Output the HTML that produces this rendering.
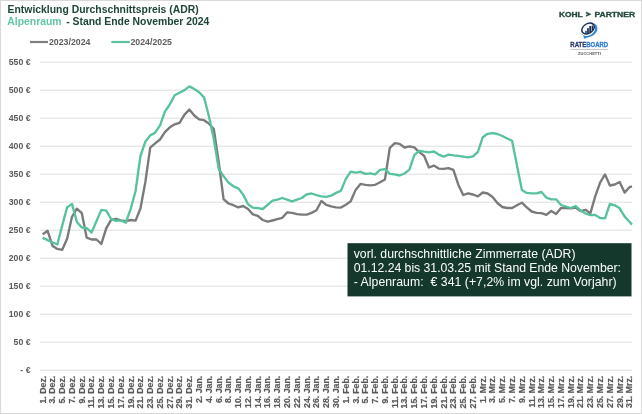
<!DOCTYPE html>
<html><head><meta charset="utf-8"><title>ADR</title>
<style>
html,body{margin:0;padding:0;background:#fff;}
body{width:642px;height:414px;overflow:hidden;font-family:"Liberation Sans",sans-serif;}
svg{display:block;will-change:transform;font-family:"Liberation Sans",sans-serif;}
</style></head><body>
<svg width="642" height="414" viewBox="0 0 642 414">
<rect x="0" y="0" width="642" height="414" fill="#ffffff"/>
<rect x="0.5" y="0.5" width="641" height="413" fill="none" stroke="#d9d9d9" stroke-width="1"/>
<line x1="40.3" y1="370.20" x2="632" y2="370.20" stroke="#dedede" stroke-width="1"/>
<line x1="40.3" y1="342.20" x2="632" y2="342.20" stroke="#dedede" stroke-width="1"/>
<line x1="40.3" y1="314.20" x2="632" y2="314.20" stroke="#dedede" stroke-width="1"/>
<line x1="40.3" y1="286.20" x2="632" y2="286.20" stroke="#dedede" stroke-width="1"/>
<line x1="40.3" y1="258.20" x2="632" y2="258.20" stroke="#dedede" stroke-width="1"/>
<line x1="40.3" y1="230.20" x2="632" y2="230.20" stroke="#dedede" stroke-width="1"/>
<line x1="40.3" y1="202.20" x2="632" y2="202.20" stroke="#dedede" stroke-width="1"/>
<line x1="40.3" y1="174.20" x2="632" y2="174.20" stroke="#dedede" stroke-width="1"/>
<line x1="40.3" y1="146.20" x2="632" y2="146.20" stroke="#dedede" stroke-width="1"/>
<line x1="40.3" y1="118.20" x2="632" y2="118.20" stroke="#dedede" stroke-width="1"/>
<line x1="40.3" y1="90.20" x2="632" y2="90.20" stroke="#dedede" stroke-width="1"/>
<line x1="40.3" y1="62.20" x2="632" y2="62.20" stroke="#dedede" stroke-width="1"/>
<text transform="translate(30.5,373.45) scale(1,1.1)" text-anchor="end" font-size="8.7" font-weight="bold" fill="#595959">- €</text>
<text transform="translate(30.5,345.45) scale(1,1.1)" text-anchor="end" font-size="8.7" font-weight="bold" fill="#595959">50 €</text>
<text transform="translate(30.5,317.45) scale(1,1.1)" text-anchor="end" font-size="8.7" font-weight="bold" fill="#595959">100 €</text>
<text transform="translate(30.5,289.45) scale(1,1.1)" text-anchor="end" font-size="8.7" font-weight="bold" fill="#595959">150 €</text>
<text transform="translate(30.5,261.45) scale(1,1.1)" text-anchor="end" font-size="8.7" font-weight="bold" fill="#595959">200 €</text>
<text transform="translate(30.5,233.45) scale(1,1.1)" text-anchor="end" font-size="8.7" font-weight="bold" fill="#595959">250 €</text>
<text transform="translate(30.5,205.45) scale(1,1.1)" text-anchor="end" font-size="8.7" font-weight="bold" fill="#595959">300 €</text>
<text transform="translate(30.5,177.45) scale(1,1.1)" text-anchor="end" font-size="8.7" font-weight="bold" fill="#595959">350 €</text>
<text transform="translate(30.5,149.45) scale(1,1.1)" text-anchor="end" font-size="8.7" font-weight="bold" fill="#595959">400 €</text>
<text transform="translate(30.5,121.45) scale(1,1.1)" text-anchor="end" font-size="8.7" font-weight="bold" fill="#595959">450 €</text>
<text transform="translate(30.5,93.45) scale(1,1.1)" text-anchor="end" font-size="8.7" font-weight="bold" fill="#595959">500 €</text>
<text transform="translate(30.5,65.45) scale(1,1.1)" text-anchor="end" font-size="8.7" font-weight="bold" fill="#595959">550 €</text>
<text transform="translate(45.55,375.7) rotate(-90)" text-anchor="end" font-size="8.8" font-weight="bold" fill="#595959" stroke="#595959" stroke-width="0.18">1. Dez.</text>
<text transform="translate(55.33,375.7) rotate(-90)" text-anchor="end" font-size="8.8" font-weight="bold" fill="#595959" stroke="#595959" stroke-width="0.18">3. Dez.</text>
<text transform="translate(65.11,375.7) rotate(-90)" text-anchor="end" font-size="8.8" font-weight="bold" fill="#595959" stroke="#595959" stroke-width="0.18">5. Dez.</text>
<text transform="translate(74.89,375.7) rotate(-90)" text-anchor="end" font-size="8.8" font-weight="bold" fill="#595959" stroke="#595959" stroke-width="0.18">7. Dez.</text>
<text transform="translate(84.67,375.7) rotate(-90)" text-anchor="end" font-size="8.8" font-weight="bold" fill="#595959" stroke="#595959" stroke-width="0.18">9. Dez.</text>
<text transform="translate(94.45,375.7) rotate(-90)" text-anchor="end" font-size="8.8" font-weight="bold" fill="#595959" stroke="#595959" stroke-width="0.18">11. Dez.</text>
<text transform="translate(104.23,375.7) rotate(-90)" text-anchor="end" font-size="8.8" font-weight="bold" fill="#595959" stroke="#595959" stroke-width="0.18">13. Dez.</text>
<text transform="translate(114.01,375.7) rotate(-90)" text-anchor="end" font-size="8.8" font-weight="bold" fill="#595959" stroke="#595959" stroke-width="0.18">15. Dez.</text>
<text transform="translate(123.79,375.7) rotate(-90)" text-anchor="end" font-size="8.8" font-weight="bold" fill="#595959" stroke="#595959" stroke-width="0.18">17. Dez.</text>
<text transform="translate(133.57,375.7) rotate(-90)" text-anchor="end" font-size="8.8" font-weight="bold" fill="#595959" stroke="#595959" stroke-width="0.18">19. Dez.</text>
<text transform="translate(143.35,375.7) rotate(-90)" text-anchor="end" font-size="8.8" font-weight="bold" fill="#595959" stroke="#595959" stroke-width="0.18">21. Dez.</text>
<text transform="translate(153.13,375.7) rotate(-90)" text-anchor="end" font-size="8.8" font-weight="bold" fill="#595959" stroke="#595959" stroke-width="0.18">23. Dez.</text>
<text transform="translate(162.91,375.7) rotate(-90)" text-anchor="end" font-size="8.8" font-weight="bold" fill="#595959" stroke="#595959" stroke-width="0.18">25. Dez.</text>
<text transform="translate(172.69,375.7) rotate(-90)" text-anchor="end" font-size="8.8" font-weight="bold" fill="#595959" stroke="#595959" stroke-width="0.18">27. Dez.</text>
<text transform="translate(182.47,375.7) rotate(-90)" text-anchor="end" font-size="8.8" font-weight="bold" fill="#595959" stroke="#595959" stroke-width="0.18">29. Dez.</text>
<text transform="translate(192.25,375.7) rotate(-90)" text-anchor="end" font-size="8.8" font-weight="bold" fill="#595959" stroke="#595959" stroke-width="0.18">31. Dez.</text>
<text transform="translate(202.03,375.7) rotate(-90)" text-anchor="end" font-size="8.8" font-weight="bold" fill="#595959" stroke="#595959" stroke-width="0.18">2. Jan.</text>
<text transform="translate(211.81,375.7) rotate(-90)" text-anchor="end" font-size="8.8" font-weight="bold" fill="#595959" stroke="#595959" stroke-width="0.18">4. Jan.</text>
<text transform="translate(221.59,375.7) rotate(-90)" text-anchor="end" font-size="8.8" font-weight="bold" fill="#595959" stroke="#595959" stroke-width="0.18">6. Jan.</text>
<text transform="translate(231.37,375.7) rotate(-90)" text-anchor="end" font-size="8.8" font-weight="bold" fill="#595959" stroke="#595959" stroke-width="0.18">8. Jan.</text>
<text transform="translate(241.15,375.7) rotate(-90)" text-anchor="end" font-size="8.8" font-weight="bold" fill="#595959" stroke="#595959" stroke-width="0.18">10. Jan.</text>
<text transform="translate(250.93,375.7) rotate(-90)" text-anchor="end" font-size="8.8" font-weight="bold" fill="#595959" stroke="#595959" stroke-width="0.18">12. Jan.</text>
<text transform="translate(260.71,375.7) rotate(-90)" text-anchor="end" font-size="8.8" font-weight="bold" fill="#595959" stroke="#595959" stroke-width="0.18">14. Jan.</text>
<text transform="translate(270.49,375.7) rotate(-90)" text-anchor="end" font-size="8.8" font-weight="bold" fill="#595959" stroke="#595959" stroke-width="0.18">16. Jan.</text>
<text transform="translate(280.27,375.7) rotate(-90)" text-anchor="end" font-size="8.8" font-weight="bold" fill="#595959" stroke="#595959" stroke-width="0.18">18. Jan.</text>
<text transform="translate(290.05,375.7) rotate(-90)" text-anchor="end" font-size="8.8" font-weight="bold" fill="#595959" stroke="#595959" stroke-width="0.18">20. Jan.</text>
<text transform="translate(299.83,375.7) rotate(-90)" text-anchor="end" font-size="8.8" font-weight="bold" fill="#595959" stroke="#595959" stroke-width="0.18">22. Jan.</text>
<text transform="translate(309.61,375.7) rotate(-90)" text-anchor="end" font-size="8.8" font-weight="bold" fill="#595959" stroke="#595959" stroke-width="0.18">24. Jan.</text>
<text transform="translate(319.39,375.7) rotate(-90)" text-anchor="end" font-size="8.8" font-weight="bold" fill="#595959" stroke="#595959" stroke-width="0.18">26. Jan.</text>
<text transform="translate(329.17,375.7) rotate(-90)" text-anchor="end" font-size="8.8" font-weight="bold" fill="#595959" stroke="#595959" stroke-width="0.18">28. Jan.</text>
<text transform="translate(338.95,375.7) rotate(-90)" text-anchor="end" font-size="8.8" font-weight="bold" fill="#595959" stroke="#595959" stroke-width="0.18">30. Jan.</text>
<text transform="translate(348.73,375.7) rotate(-90)" text-anchor="end" font-size="8.8" font-weight="bold" fill="#595959" stroke="#595959" stroke-width="0.18">1. Feb.</text>
<text transform="translate(358.51,375.7) rotate(-90)" text-anchor="end" font-size="8.8" font-weight="bold" fill="#595959" stroke="#595959" stroke-width="0.18">3. Feb.</text>
<text transform="translate(368.29,375.7) rotate(-90)" text-anchor="end" font-size="8.8" font-weight="bold" fill="#595959" stroke="#595959" stroke-width="0.18">5. Feb.</text>
<text transform="translate(378.07,375.7) rotate(-90)" text-anchor="end" font-size="8.8" font-weight="bold" fill="#595959" stroke="#595959" stroke-width="0.18">7. Feb.</text>
<text transform="translate(387.85,375.7) rotate(-90)" text-anchor="end" font-size="8.8" font-weight="bold" fill="#595959" stroke="#595959" stroke-width="0.18">9. Feb.</text>
<text transform="translate(397.63,375.7) rotate(-90)" text-anchor="end" font-size="8.8" font-weight="bold" fill="#595959" stroke="#595959" stroke-width="0.18">11. Feb.</text>
<text transform="translate(407.41,375.7) rotate(-90)" text-anchor="end" font-size="8.8" font-weight="bold" fill="#595959" stroke="#595959" stroke-width="0.18">13. Feb.</text>
<text transform="translate(417.19,375.7) rotate(-90)" text-anchor="end" font-size="8.8" font-weight="bold" fill="#595959" stroke="#595959" stroke-width="0.18">15. Feb.</text>
<text transform="translate(426.97,375.7) rotate(-90)" text-anchor="end" font-size="8.8" font-weight="bold" fill="#595959" stroke="#595959" stroke-width="0.18">17. Feb.</text>
<text transform="translate(436.75,375.7) rotate(-90)" text-anchor="end" font-size="8.8" font-weight="bold" fill="#595959" stroke="#595959" stroke-width="0.18">19. Feb.</text>
<text transform="translate(446.53,375.7) rotate(-90)" text-anchor="end" font-size="8.8" font-weight="bold" fill="#595959" stroke="#595959" stroke-width="0.18">21. Feb.</text>
<text transform="translate(456.31,375.7) rotate(-90)" text-anchor="end" font-size="8.8" font-weight="bold" fill="#595959" stroke="#595959" stroke-width="0.18">23. Feb.</text>
<text transform="translate(466.09,375.7) rotate(-90)" text-anchor="end" font-size="8.8" font-weight="bold" fill="#595959" stroke="#595959" stroke-width="0.18">25. Feb.</text>
<text transform="translate(475.87,375.7) rotate(-90)" text-anchor="end" font-size="8.8" font-weight="bold" fill="#595959" stroke="#595959" stroke-width="0.18">27. Feb.</text>
<text transform="translate(485.65,375.7) rotate(-90)" text-anchor="end" font-size="8.8" font-weight="bold" fill="#595959" stroke="#595959" stroke-width="0.18">1. Mrz.</text>
<text transform="translate(495.43,375.7) rotate(-90)" text-anchor="end" font-size="8.8" font-weight="bold" fill="#595959" stroke="#595959" stroke-width="0.18">3. Mrz.</text>
<text transform="translate(505.21,375.7) rotate(-90)" text-anchor="end" font-size="8.8" font-weight="bold" fill="#595959" stroke="#595959" stroke-width="0.18">5. Mrz.</text>
<text transform="translate(514.99,375.7) rotate(-90)" text-anchor="end" font-size="8.8" font-weight="bold" fill="#595959" stroke="#595959" stroke-width="0.18">7. Mrz.</text>
<text transform="translate(524.77,375.7) rotate(-90)" text-anchor="end" font-size="8.8" font-weight="bold" fill="#595959" stroke="#595959" stroke-width="0.18">9. Mrz.</text>
<text transform="translate(534.55,375.7) rotate(-90)" text-anchor="end" font-size="8.8" font-weight="bold" fill="#595959" stroke="#595959" stroke-width="0.18">11. Mrz.</text>
<text transform="translate(544.33,375.7) rotate(-90)" text-anchor="end" font-size="8.8" font-weight="bold" fill="#595959" stroke="#595959" stroke-width="0.18">13. Mrz.</text>
<text transform="translate(554.11,375.7) rotate(-90)" text-anchor="end" font-size="8.8" font-weight="bold" fill="#595959" stroke="#595959" stroke-width="0.18">15. Mrz.</text>
<text transform="translate(563.89,375.7) rotate(-90)" text-anchor="end" font-size="8.8" font-weight="bold" fill="#595959" stroke="#595959" stroke-width="0.18">17. Mrz.</text>
<text transform="translate(573.67,375.7) rotate(-90)" text-anchor="end" font-size="8.8" font-weight="bold" fill="#595959" stroke="#595959" stroke-width="0.18">19. Mrz.</text>
<text transform="translate(583.45,375.7) rotate(-90)" text-anchor="end" font-size="8.8" font-weight="bold" fill="#595959" stroke="#595959" stroke-width="0.18">21. Mrz.</text>
<text transform="translate(593.23,375.7) rotate(-90)" text-anchor="end" font-size="8.8" font-weight="bold" fill="#595959" stroke="#595959" stroke-width="0.18">23. Mrz.</text>
<text transform="translate(603.01,375.7) rotate(-90)" text-anchor="end" font-size="8.8" font-weight="bold" fill="#595959" stroke="#595959" stroke-width="0.18">25. Mrz.</text>
<text transform="translate(612.79,375.7) rotate(-90)" text-anchor="end" font-size="8.8" font-weight="bold" fill="#595959" stroke="#595959" stroke-width="0.18">27. Mrz.</text>
<text transform="translate(622.57,375.7) rotate(-90)" text-anchor="end" font-size="8.8" font-weight="bold" fill="#595959" stroke="#595959" stroke-width="0.18">29. Mrz.</text>
<text transform="translate(632.35,375.7) rotate(-90)" text-anchor="end" font-size="8.8" font-weight="bold" fill="#595959" stroke="#595959" stroke-width="0.18">31. Mrz.</text>
<path d="M42.65,234.40 L47.54,230.70 L52.43,245.70 L57.32,248.90 L62.21,249.80 L67.10,238.80 L71.99,216.80 L76.88,208.70 L81.77,213.10 L86.66,237.60 L91.55,239.50 L96.44,239.50 L101.33,243.90 L106.22,228.30 L111.11,219.80 L116.00,218.80 L120.89,220.30 L125.78,221.20 L130.67,220.00 L135.56,220.60 L140.45,208.50 L145.34,182.00 L150.23,147.60 L155.12,143.40 L160.01,139.50 L164.90,132.10 L169.79,127.30 L174.68,124.30 L179.57,122.80 L184.46,114.60 L189.35,109.60 L194.24,115.50 L199.13,119.40 L204.02,120.20 L208.91,123.60 L213.80,129.00 L218.69,162.00 L223.58,199.20 L228.47,203.50 L233.36,205.20 L238.25,207.40 L243.14,206.00 L248.03,209.00 L252.92,214.40 L257.81,215.80 L262.70,220.00 L267.59,221.70 L272.48,220.50 L277.37,219.20 L282.26,217.80 L287.15,212.40 L292.04,212.90 L296.93,214.10 L301.82,214.60 L306.71,214.60 L311.60,212.90 L316.49,210.20 L321.38,201.00 L326.27,204.90 L331.16,206.40 L336.05,207.30 L340.94,207.60 L345.83,204.70 L350.72,201.20 L355.61,189.90 L360.50,183.90 L365.39,184.80 L370.28,185.30 L375.17,184.80 L380.06,182.30 L384.95,179.40 L389.84,147.80 L394.73,143.10 L399.62,143.90 L404.51,147.50 L409.40,146.40 L414.29,147.30 L419.18,152.10 L424.07,155.70 L428.96,167.50 L433.85,165.60 L438.74,168.60 L443.63,168.90 L448.52,168.10 L453.41,169.80 L458.30,184.70 L463.19,195.00 L468.08,193.30 L472.97,194.50 L477.86,196.40 L482.75,192.50 L487.64,193.50 L492.53,197.00 L497.42,203.00 L502.31,207.00 L507.20,208.00 L512.09,208.00 L516.98,205.20 L521.87,202.70 L526.76,207.30 L531.65,211.50 L536.54,212.80 L541.43,213.20 L546.32,214.90 L551.21,211.00 L556.10,214.00 L560.99,208.00 L565.88,208.10 L570.77,208.40 L575.66,207.50 L580.55,211.10 L585.44,209.80 L590.33,213.40 L595.22,196.40 L600.11,182.60 L605.00,174.40 L609.89,185.50 L614.78,184.50 L619.67,182.00 L624.56,192.60 L629.45,187.20 L632.00,186.40" fill="none" stroke="#7a7a7a" stroke-width="2.35" stroke-linejoin="round" stroke-linecap="butt"/>
<path d="M42.65,237.60 L47.54,240.10 L52.43,242.30 L57.32,244.50 L62.21,225.60 L67.10,207.40 L71.99,203.90 L76.88,221.90 L81.77,227.50 L86.66,228.20 L91.55,232.50 L96.44,221.30 L101.33,209.90 L106.22,210.60 L111.11,219.00 L116.00,220.90 L120.89,220.40 L125.78,222.70 L130.67,209.00 L135.56,191.00 L140.45,156.00 L145.34,141.70 L150.23,135.40 L155.12,132.70 L160.01,125.30 L164.90,111.60 L169.79,104.50 L174.68,95.20 L179.57,92.70 L184.46,90.10 L189.35,86.40 L194.24,89.00 L199.13,92.20 L204.02,97.40 L208.91,116.30 L213.80,139.00 L218.69,168.70 L223.58,176.30 L228.47,182.50 L233.36,186.30 L238.25,188.30 L243.14,194.60 L248.03,204.30 L252.92,207.70 L257.81,208.20 L262.70,209.00 L267.59,204.80 L272.48,200.60 L277.37,199.70 L282.26,198.00 L287.15,199.70 L292.04,201.40 L296.93,199.70 L301.82,198.00 L306.71,194.30 L311.60,193.50 L316.49,195.20 L321.38,196.30 L326.27,196.90 L331.16,195.60 L336.05,192.90 L340.94,190.70 L345.83,178.90 L350.72,171.60 L355.61,172.60 L360.50,171.80 L365.39,173.80 L370.28,173.30 L375.17,174.30 L380.06,169.90 L384.95,169.10 L389.84,173.80 L394.73,174.30 L399.62,175.50 L404.51,173.50 L409.40,169.60 L414.29,155.20 L419.18,150.80 L424.07,151.70 L428.96,152.30 L433.85,151.50 L438.74,154.60 L443.63,156.60 L448.52,154.60 L453.41,155.40 L458.30,155.90 L463.19,156.60 L468.08,157.40 L472.97,156.30 L477.86,152.00 L482.75,137.20 L487.64,133.80 L492.53,133.10 L497.42,134.00 L502.31,136.00 L507.20,138.50 L512.09,140.70 L516.98,165.60 L521.87,190.00 L526.76,192.90 L531.65,193.40 L536.54,193.40 L541.43,192.00 L546.32,197.60 L551.21,199.30 L556.10,199.30 L560.99,205.00 L565.88,206.50 L570.77,208.00 L575.66,206.00 L580.55,210.40 L585.44,213.50 L590.33,215.10 L595.22,215.00 L600.11,218.00 L605.00,218.30 L609.89,204.00 L614.78,205.30 L619.67,208.30 L624.56,216.40 L629.45,221.70 L632.00,224.60" fill="none" stroke="#58c2a0" stroke-width="2.35" stroke-linejoin="round" stroke-linecap="butt"/>
<text x="7.6" y="13" font-size="10.4" font-weight="bold" fill="#1d4637">Entwicklung Durchschnittspreis (ADR)</text>
<text x="7.3" y="25" font-size="10.4" font-weight="bold" fill="#1d4637"><tspan fill="#62c6a4">Alpenraum</tspan><tspan x="66.2">- Stand Ende November 2024</tspan></text>
<line x1="30" y1="42" x2="48" y2="42" stroke="#7f7f7f" stroke-width="2.2"/>
<text x="49" y="45" font-size="8.75" font-weight="bold" fill="#5c5c5c">2023/2024</text>
<line x1="111.3" y1="42" x2="129.8" y2="42" stroke="#57c1a0" stroke-width="2.2"/>
<text x="130.5" y="45" font-size="8.75" font-weight="bold" fill="#5c5c5c">2024/2025</text>
<rect x="347.5" y="243.2" width="284" height="53.2" fill="#14382c"/>
<text font-size="12.25" fill="#ffffff" xml:space="preserve"><tspan x="353.7" y="257.7" textLength="221.8">vorl. durchschnittliche Zimmerrate (ADR)</tspan><tspan x="353.7" y="271.9" textLength="267.3">01.12.24 bis 31.03.25 mit Stand Ende November:</tspan><tspan x="353.7" y="286.0" textLength="262.9">- Alpenraum:  € 341 (+7,2% im vgl. zum Vorjahr)</tspan></text>

<g id="logos">
<g fill="#23493b" stroke="#23493b" stroke-width="0.3" font-weight="bold" font-size="6.9">
<text x="558.9" y="16.6" textLength="23.7" lengthAdjust="spacingAndGlyphs">KOHL</text>
<text x="594.4" y="16.6" textLength="40.8" lengthAdjust="spacingAndGlyphs">PARTNER</text>
<path d="M586.1,11.8 L591.2,14.2 L586.1,16.6 L586.1,15.1 L588.3,14.2 L586.1,13.3 Z"/>
</g>
<ellipse cx="0" cy="0" rx="8.5" ry="6.5" transform="translate(589.5,30.1) rotate(-33)" fill="#2f86d6"/>
<path d="M583.2,35.3 L584.3,38.7 L588.6,36.9 Z" fill="#2f86d6"/>
<ellipse cx="0" cy="0" rx="7.7" ry="6.2" transform="translate(588.0,29.3) rotate(-33)" fill="#ffffff"/>
<ellipse cx="0" cy="0" rx="7.5" ry="5.5" transform="translate(588.05,28.5) rotate(-33)" fill="#1b2c52"/>
<ellipse cx="0" cy="0" rx="6.1" ry="4.1" transform="translate(588.05,28.5) rotate(-33)" fill="#f4f8fd"/>
<g fill="#1b2c52">
<rect x="585.3" y="30.9" width="1.4" height="2.5"/>
<rect x="587.1" y="28.2" width="1.7" height="5.2"/>
<rect x="589.3" y="26.0" width="1.8" height="6.8"/>
<rect x="591.7" y="25.6" width="1.5" height="5.0"/>
</g>
<text x="570.3" y="46.5" font-size="7.4" font-weight="bold" fill="#2b3a67" stroke="#2b3a67" stroke-width="0.3" textLength="37.9" lengthAdjust="spacingAndGlyphs">RATE<tspan fill="#2e7fd1" stroke="#2e7fd1">BOARD</tspan></text>
<line x1="570.6" y1="49.4" x2="607.9" y2="49.4" stroke="#9a9a9a" stroke-width="0.6"/>
<text x="578" y="54.7" font-size="4.1" font-weight="bold" fill="#5a5a5a" textLength="22.9" lengthAdjust="spacingAndGlyphs">ZUCCHETTI</text>
</g>
</svg>
</body></html>
